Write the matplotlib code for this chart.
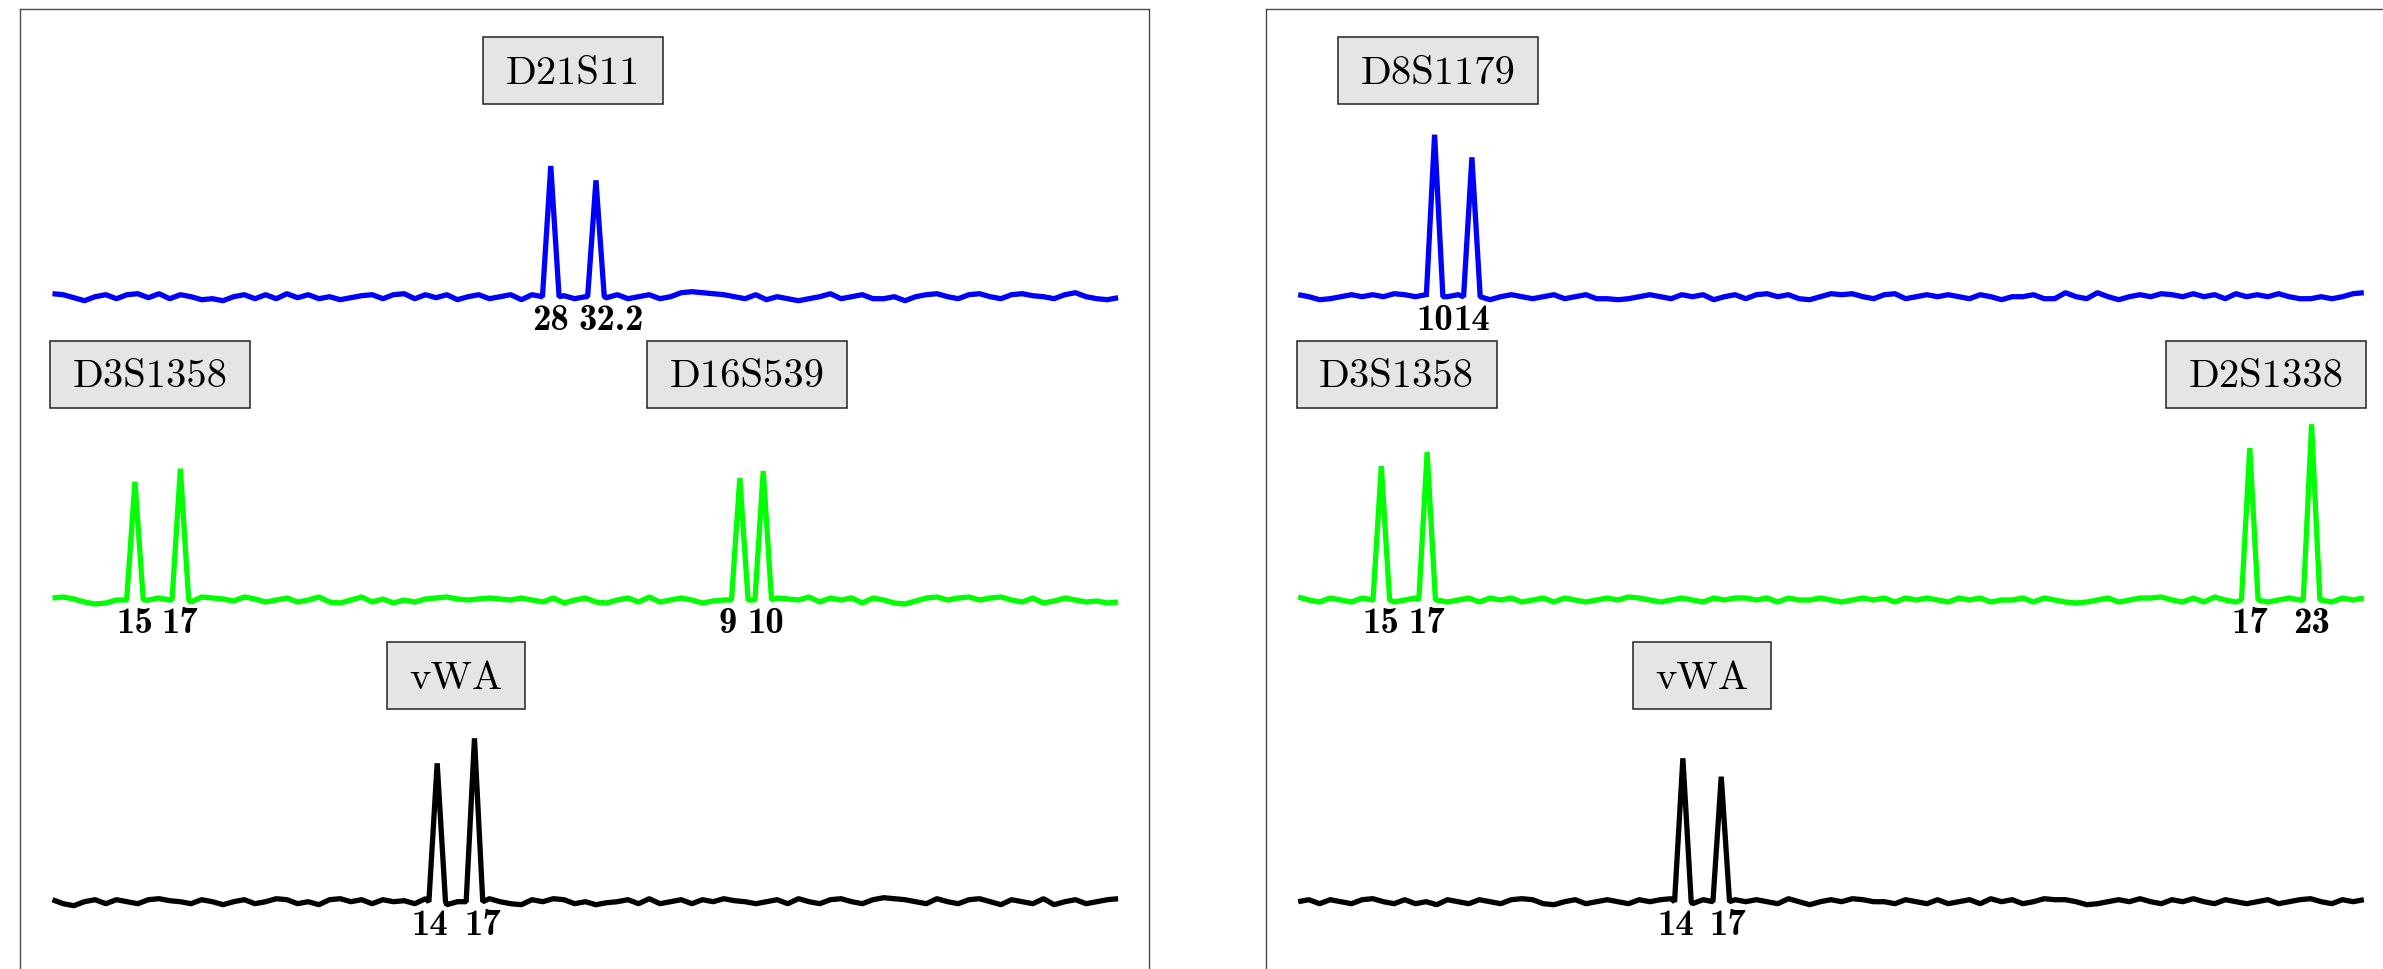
import numpy as np
import matplotlib
matplotlib.use("Agg")
import matplotlib.pyplot as plt
from matplotlib.patches import Rectangle

# ---------------- data ----------------
# baseline noise (signal units, one sample per scan step)
noise_blue_L = [3, 2, -1, -4, 0, 2, -2, 2, 3, -1,
                3, -2, 2, 0, -3, -2, -4, 0, 2, -2,
                2, -2, 3, -1, 2, -2, 0, -3, -1, 1,
                2, -2, 2, 3, -2, 2, -1, 2, -3, 0,
                2, -2, 0, 2, -3, 2, -1, 0, 1, -2,
                0, 2, -1, 2, -2, 0, 2, -2, 0, 4,
                5, 4, 3, 2, 0, -2, 2, -3, 0, -2,
                -4, -2, 0, 3, -2, 0, 2, -2, -2, 0,
                -4, 0, 2, 3, 0, -2, 2, 3, 0, -2,
                2, 3, 1, 0, -2, 2, 4, 0, -2, -3,
                -1]
noise_green_L = [2, 3, 1, -2, -4, -3, 0, 2, -2, 0,
                 2, 0, 1, -2, 3, 2, 1, -1, 3, 1,
                 -2, 0, 2, -2, 0, 3, -2, -3, 0, 3,
                 -2, 1, -3, 0, -2, 1, 2, 3, 1, 0,
                 1, 2, 1, 0, 2, 0, -2, 2, -3, 0,
                 2, -2, -3, 0, 2, -2, 3, -2, 0, 2,
                 0, -3, -1, 0, 2, 0, -2, 0, 2, 1,
                 0, 3, -2, 2, 0, 2, -3, 2, 0, -3,
                 -4, -1, 2, 3, 0, 2, 3, 0, 2, 3,
                 0, -2, 2, -3, -1, 2, 0, -2, -1, -3,
                 -2]
noise_black_L = [2, -2, -4, 0, 2, -2, 2, 0, -2, 2,
                 3, 1, 0, -2, 2, 0, -3, 0, 2, -2,
                 0, 3, 2, -2, 0, -3, 2, 3, 0, 2,
                 -2, 2, 0, 1, -2, 3, 2, -3, 0, -4,
                 2, 3, 0, -2, -3, 2, 0, 3, 2, -2,
                 0, -3, -1, 0, 2, -2, 3, -2, 0, 2,
                 -2, 2, 0, 3, 1, 0, -2, 0, 2, -2,
                 3, 0, -2, 2, 3, 0, -2, 2, 4, 3,
                 2, 0, -2, 3, 0, -2, 2, 3, 0, -3,
                 2, 0, -2, 3, -3, 0, 2, -2, 0, 2,
                 3]
noise_blue_R = [2, 0, -3, -2, 0, 2, 0, 2, 0, 3,
                2, 0, 2, -3, 0, 2, 0, -2, -3, 0,
                2, 0, -2, 0, 2, -2, 0, 2, -2, -2,
                -3, -2, 0, 2, 0, -2, 2, 0, 2, -3,
                0, 2, -2, 2, 3, 0, 2, -2, -3, 0,
                3, 2, 3, 0, -2, 2, 3, -2, 0, 2,
                0, 2, 0, -2, 2, 0, -3, 0, 0, 2,
                -2, -2, 4, 0, -2, 4, 0, -3, 0, 2,
                0, 3, 2, 0, 3, 0, 2, -2, 3, 0,
                2, 0, 3, 0, -2, -2, 0, -2, 0, 3,
                4]
noise_green_R = [3, 0, -2, 2, 0, -2, 2, 0, 2, -2,
                 0, 2, 3, 0, -2, 0, 2, -2, 2, 0,
                 2, -2, 0, 2, -2, 2, 0, -2, 0, 2,
                 0, 3, 2, 0, -2, 0, 2, 0, -2, 2,
                 0, 2, 2, 0, 2, -2, 2, 0, 0, 2,
                 0, -2, 0, 2, 0, 2, -2, 2, 0, 2,
                 0, -2, 2, 0, 2, -2, 0, 0, 2, -2,
                 2, 0, -2, -3, -2, 0, 2, -2, 0, 2,
                 2, 3, 0, -2, 2, -2, 3, 0, -2, 2,
                 2, -2, 0, 2, 0, 3, 0, -2, 2, 0,
                 2]
noise_black_R = [0, 2, -2, 2, 0, -2, 2, 3, 0, -2,
                 2, -2, 0, -3, 2, 0, -2, 2, 0, -2,
                 2, 3, 2, -2, -3, 0, 2, -2, 0, 2,
                 0, -2, 2, 0, 2, 3, 0, -2, 2, -3,
                 0, 2, 0, 2, 0, -2, 3, 0, -3, 0,
                 2, 0, 3, 2, 0, 0, -2, 2, 0, -2,
                 2, -2, 0, 2, -2, 3, 0, 2, -2, 0,
                 3, 2, 2, 0, -3, -2, 0, 2, 0, 3,
                 0, -2, 2, 0, 3, 0, -2, 2, 0, -2,
                 0, 2, -2, 0, 2, 3, 0, -2, 2, 0,
                 2]

# loci, alleles, peak positions (scan units) and peak heights (signal units)
loci_blue_L = ["D21S11"]
alleles_blue_L = ["28", "32.2"]
pos_blue_L = [46.76, 51.0]
height_blue_L = [130.7, 116.4]

loci_green_L = ["D3S1358", "D16S539"]
alleles_green_L = ["15", "17", "9", "10"]
pos_green_L = [7.74, 12.0, 64.5, 66.7]
height_green_L = [118.3, 131.3, 122.0, 129.0]

loci_black_L = ["vWA"]
alleles_black_L = ["14", "17"]
pos_black_L = [36.1, 39.6]
height_black_L = [138.4, 163.4]

loci_blue_R = ["D8S1179"]
alleles_blue_R = ["10", "14"]
pos_blue_R = [12.8, 16.3]
height_blue_R = [162.0, 139.4]

loci_green_R = ["D3S1358", "D2S1338"]
alleles_green_R = ["15", "17", "17", "23"]
pos_green_R = [7.8, 12.1, 89.3, 95.1]
height_green_R = [134.0, 148.0, 152.0, 175.7]

loci_black_R = ["vWA"]
alleles_black_R = ["14", "17"]
pos_black_R = [36.1, 39.7]
height_black_R = [143.4, 125.0]

# ---------------- layout ----------------
W, H = 2383, 969
fig = plt.figure(figsize=(W / 100, H / 100), dpi=100)


def px_axes(left, top, right, bottom):
    return [left / W, 1 - bottom / H, (right - left) / W, (bottom - top) / H]


axL = fig.add_axes(px_axes(20, 8.5, 1149, 990))
axR = fig.add_axes(px_axes(1265.7, 8.5, 2394.7, 990))

XLIM = (-3.05, 102.9)
YLIM = (0, 981.5)
X_PX = 1129 / (XLIM[1] - XLIM[0])  # pixels per x unit

channel_offset = {"blue": 693.3, "green": 390.0, "black": 88.3}
channel_color = {"blue": "#0000ff", "green": "#00ff00", "black": "#000000"}
BOX_ABOVE = 226.0
BOX_H = 67.0
BOX_PADX = 45.0
LABEL_BELOW = 33.0

# layout: where the allele labels and locus boxes sit (x, scan units)
panels = [
    (axL, [
        ("blue", noise_blue_L, loci_blue_L, alleles_blue_L, pos_blue_L, height_blue_L,
         [48.85], [46.76, 52.42]),
        ("green", noise_green_L, loci_green_L, alleles_green_L, pos_green_L, height_green_L,
         [9.17, 65.18], [7.74, 12.0, 63.4, 66.96]),
        ("black", noise_black_L, loci_black_L, alleles_black_L, pos_black_L, height_black_L,
         [37.87], [35.39, 40.40]),
    ]),
    (axR, [
        ("blue", noise_blue_R, loci_blue_R, alleles_blue_R, pos_blue_R, height_blue_R,
         [13.13], [12.8, 16.3]),
        ("green", noise_green_R, loci_green_R, alleles_green_R, pos_green_R, height_green_R,
         [9.23, 90.8], [7.8, 12.1, 89.3, 95.1]),
        ("black", noise_black_R, loci_black_R, alleles_black_R, pos_black_R, height_black_R,
         [37.92], [35.48, 40.32]),
    ]),
]

HALF = 0.78
box_texts = []

for ax, channels in panels:
    ax.set_xlim(*XLIM)
    ax.set_ylim(*YLIM)
    ax.set_xticks([])
    ax.set_yticks([])
    for sp in ax.spines.values():
        sp.set_color("#4d4d4d")
        sp.set_linewidth(1.0)

    for ch, noise, loci, alleles, pos, heights, box_x, lab_x in channels:
        off = channel_offset[ch]
        xs = np.arange(len(noise), dtype=float)
        ys = np.array(noise, dtype=float)
        keep = np.ones(len(xs), dtype=bool)
        for p in pos:
            keep &= np.abs(xs - p) > HALF
        X = list(xs[keep])
        Y = list(ys[keep])
        for p, h in zip(pos, heights):
            X += [p - HALF, p, p + HALF]
            Y += [0.0, h, 0.0]
        order = np.argsort(X)
        X = np.array(X)[order]
        Y = np.array(Y)[order] + off
        ax.plot(X, Y, color=channel_color[ch], lw=3.8,
                solid_joinstyle="bevel", solid_capstyle="butt", zorder=3)

        # allele labels
        for a, lx in zip(alleles, lab_x):
            ax.text(lx, off - LABEL_BELOW, a, ha="center", va="baseline",
                    family="cmb10", fontsize=26.5, zorder=5)

        # locus labels
        for name, bx in zip(loci, box_x):
            yc = off + BOX_ABOVE
            t = ax.text(bx, yc - 13.0, name, ha="center", va="baseline",
                        family="cmr10", fontsize=29.2, zorder=6)
            box_texts.append((ax, t, bx, yc))

fig.canvas.draw()
renderer = fig.canvas.get_renderer()
for ax, t, bx, yc in box_texts:
    bb = t.get_window_extent(renderer)
    wdat = (bb.width + BOX_PADX) / X_PX
    ax.add_patch(Rectangle((bx - wdat / 2, yc - BOX_H / 2), wdat, BOX_H,
                           facecolor="#e5e5e5", edgecolor="#222222", lw=1.1, zorder=4))

fig.savefig("out.png", dpi=100)
